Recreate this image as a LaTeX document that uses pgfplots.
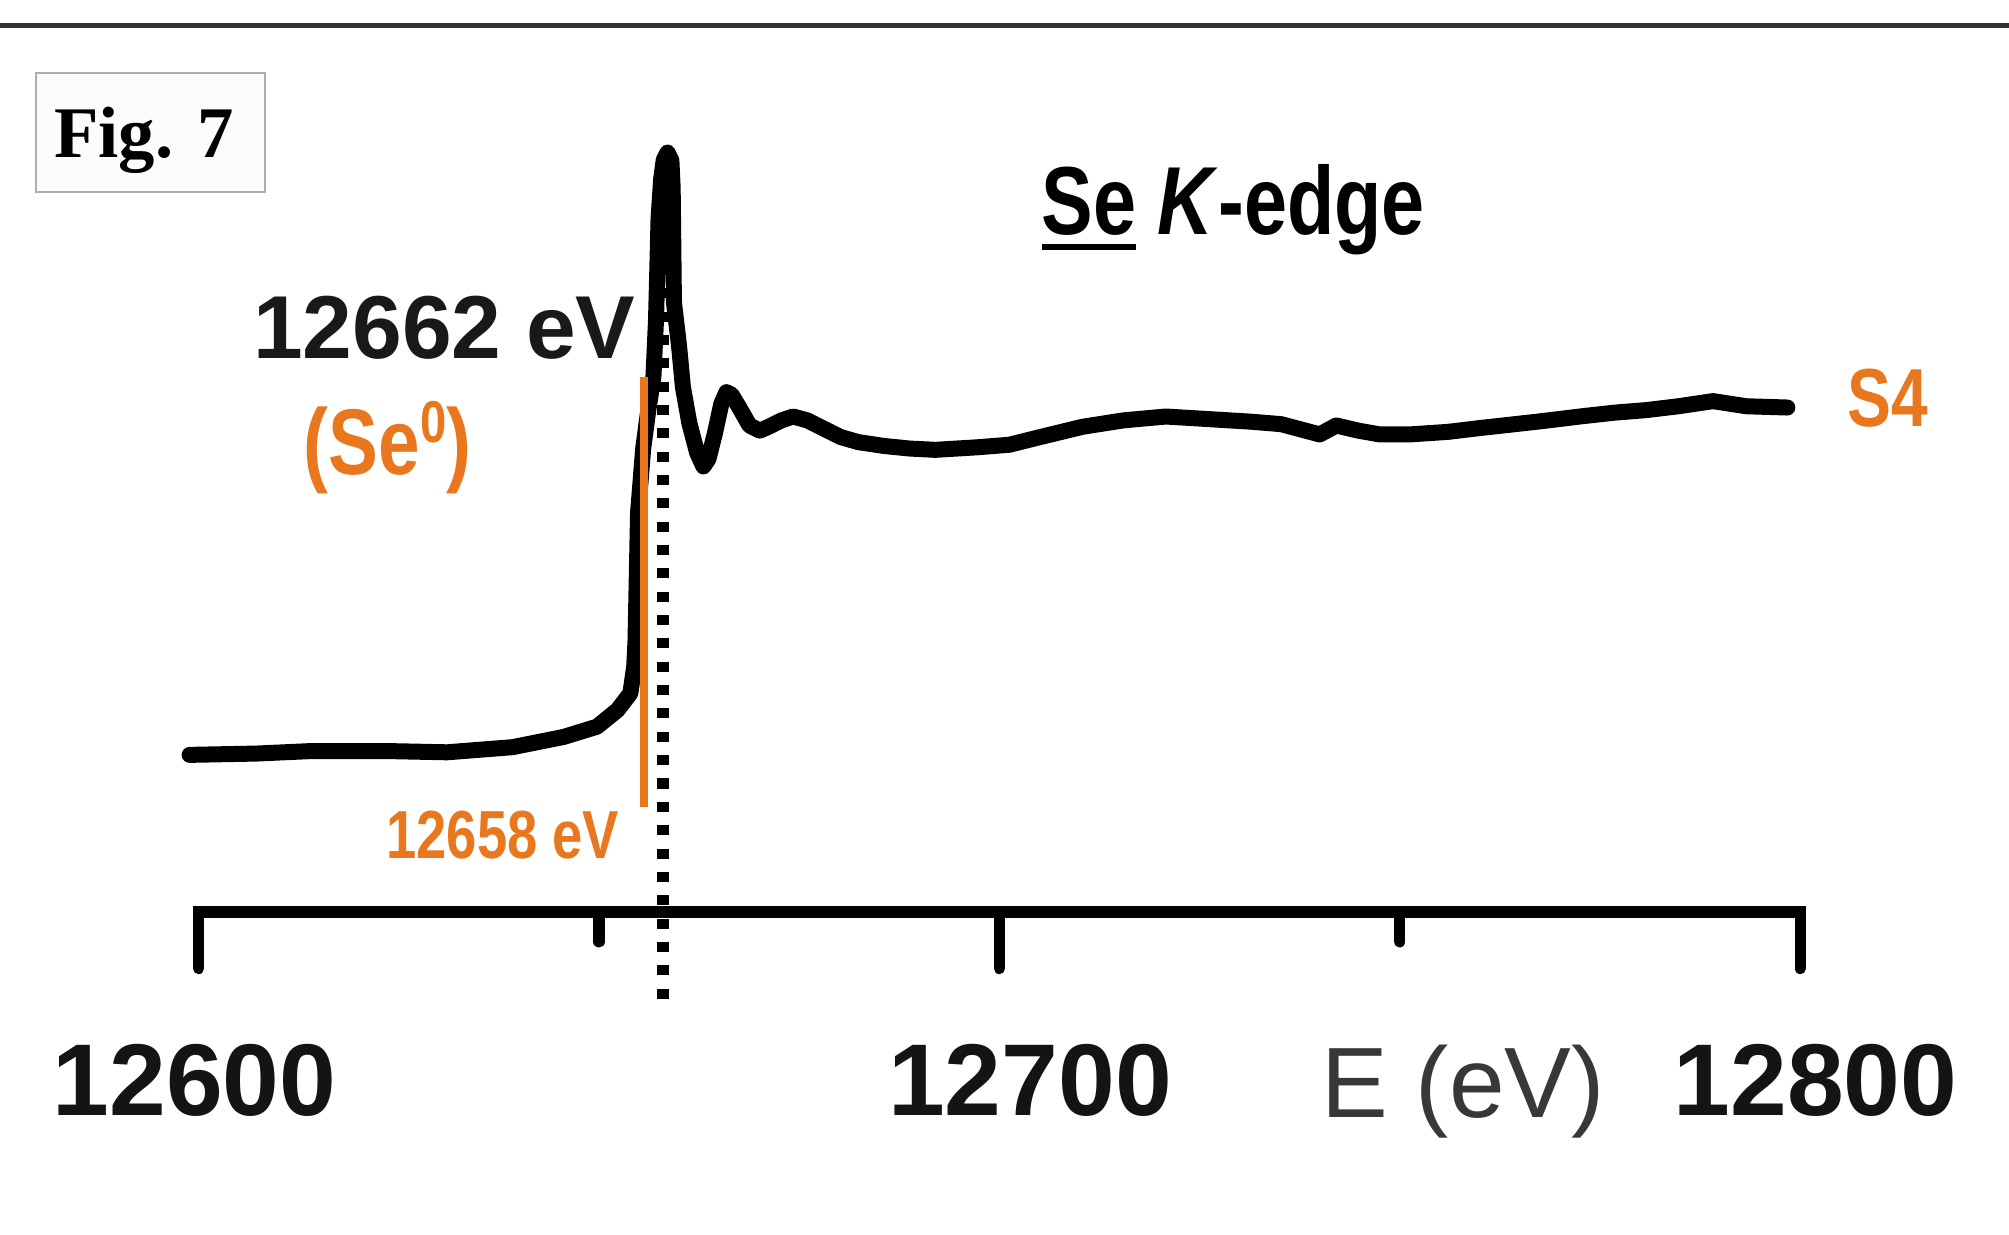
\documentclass[border=0pt]{standalone}
\usepackage{pgfplots}
\pgfplotsset{compat=1.18}
\usepackage{graphicx}
\usepackage{fontspec}
\setmainfont{Liberation Sans}
\newfontfamily\seriffont{Liberation Serif}
\definecolor{seorange}{HTML}{E8771E}
\newcommand{\narrow}[1]{\scalebox{0.8}[1]{#1}}
\newcommand{\ul}[1]{\setbox0\hbox{#1}\rlap{\rule[-4.6pt]{\wd0}{1.8pt}}\box0\relax}
\newcommand{\sh}[2]{\kern#1\relax #2\kern-#1\relax}
\begin{document}
\begin{tikzpicture}
\begin{axis}[
  x=2.4018pt, y=99.94pt,
  xmin=12600, xmax=12800, ymin=-0.46923, ymax=2.2692,
  axis x line=bottom, axis y line=none,
  clip=false,
  xtick={12600,12700,12800},
  xticklabels={\sh{-1.2pt}{12600},\sh{9.2pt}{12700},\sh{4.6pt}{12800}},
  minor xtick={12650,12750},
  scaled x ticks=false,
  tick align=outside,
  major tick length=16.8pt,
  minor tick length=8.8pt,
  tick style={black, line width=3.4pt, line cap=round},
  x axis line style={-, line width=3.6pt, black, line cap=rect},
  xticklabel style={font=\fontsize{30.6}{36}\selectfont\bfseries, anchor=base, yshift=-44pt, text=black!92},
]
% Se K-edge XANES spectrum (S4)
\addplot[black, line width=4.8pt, line join=round, line cap=round] coordinates {
(12598.88,0.0038) (12607.20,0.0077) (12614.24,0.0154) (12623.20,0.0154)
(12631.04,0.0115) (12639.20,0.0269) (12645.60,0.0577) (12649.76,0.0885)
(12652.32,0.1385) (12653.92,0.1885) (12654.40,0.2692) (12654.56,0.3462)
(12654.72,0.5385) (12654.88,0.7308) (12655.52,0.9231) (12656.16,1.0385)
(12656.80,1.1385) (12657.12,1.3077) (12657.28,1.4577) (12657.44,1.6154)
(12657.76,1.7308) (12658.08,1.7885) (12658.56,1.8115) (12659.04,1.7885)
(12659.20,1.7077) (12659.28,1.5385) (12659.36,1.3615) (12660.00,1.2308)
(12660.48,1.1077) (12661.28,1.0000) (12662.24,0.9115) (12663.04,0.8692)
(12663.68,0.8923) (12664.48,0.9692) (12665.28,1.0577) (12665.92,1.0923)
(12666.56,1.0846) (12667.52,1.0462) (12668.80,0.9923) (12670.08,0.9769)
(12671.20,0.9885) (12672.80,1.0077) (12674.24,1.0192) (12676.00,1.0077)
(12677.60,0.9885) (12680.16,0.9577) (12682.40,0.9423) (12685.60,0.9308)
(12688.80,0.9231) (12692.00,0.9192) (12697.28,0.9269) (12701.28,0.9346)
(12705.12,0.9577) (12710.40,0.9885) (12715.52,1.0077) (12720.80,1.0192)
(12726.08,1.0115) (12731.36,1.0038) (12735.20,0.9962) (12740.00,0.9654)
(12742.08,0.9923) (12744.80,0.9769) (12747.52,0.9654) (12751.20,0.9654)
(12756.00,0.9731) (12760.00,0.9846) (12767.20,1.0038) (12772.48,1.0192)
(12776.80,1.0308) (12780.80,1.0385) (12784.80,1.0500) (12789.12,1.0654)
(12793.28,1.0500) (12798.40,1.0462)
};
% edge position markers
\addplot[black, line width=3.5pt, dash pattern=on 3pt off 4pt] coordinates {(12658,1.4738) (12658,-0.7627)};
\addplot[seorange, line width=2.5pt] coordinates {(12655.63,1.1385) (12655.63,-0.1538)};

% annotations
\node[anchor=base, font=\fontsize{26.8}{32}\selectfont\bfseries, text=black!90] at (axis cs:12630.7,1.1923) {12662 eV};
\node[anchor=base, font=\fontsize{28}{34}\selectfont\bfseries, text=seorange] at (axis cs:12623.6,0.8462) {\narrow{(Se\raisebox{9.6pt}{\fontsize{17.7}{20}\selectfont 0})}};
\node[anchor=base, font=\fontsize{20.4}{24}\selectfont\bfseries, text=seorange] at (axis cs:12638.0,-0.3077) {\narrow{12658 eV}};
\node[anchor=base, font=\fontsize{24.7}{30}\selectfont\bfseries, text=seorange] at (axis cs:12810.96,0.9885) {\narrow{S4}};
\node[anchor=base, font=\fontsize{29}{34}\selectfont\bfseries] at (axis cs:12729.2,1.5654) {\narrow{\ul{Se} \textit{K}-edge}};
\node[anchor=base, font=\fontsize{30}{36}\selectfont, text=black!78] at (axis cs:12757.92,-1.0846) {E (eV)};

% figure tag and top rule
\draw[draw=black!32, line width=0.6pt, fill=black!1] (axis cs:12579.68,2.05) rectangle (axis cs:12608.32,1.6923);
\node[anchor=base, font=\seriffont\bfseries\fontsize{21.8}{26}\selectfont] at (axis cs:12593.2,1.7962) {Fig. 7};
\draw[black!80, line width=1.5pt] (axis cs:12575.2,2.1923) -- (axis cs:12826.08,2.1923);

\coordinate (BL) at (axis cs:12575.2,-1.4346);
\coordinate (TR) at (axis cs:12826.08,2.2692);
\end{axis}
\pgfresetboundingbox
\path (BL) rectangle (TR);
\end{tikzpicture}
\end{document}
